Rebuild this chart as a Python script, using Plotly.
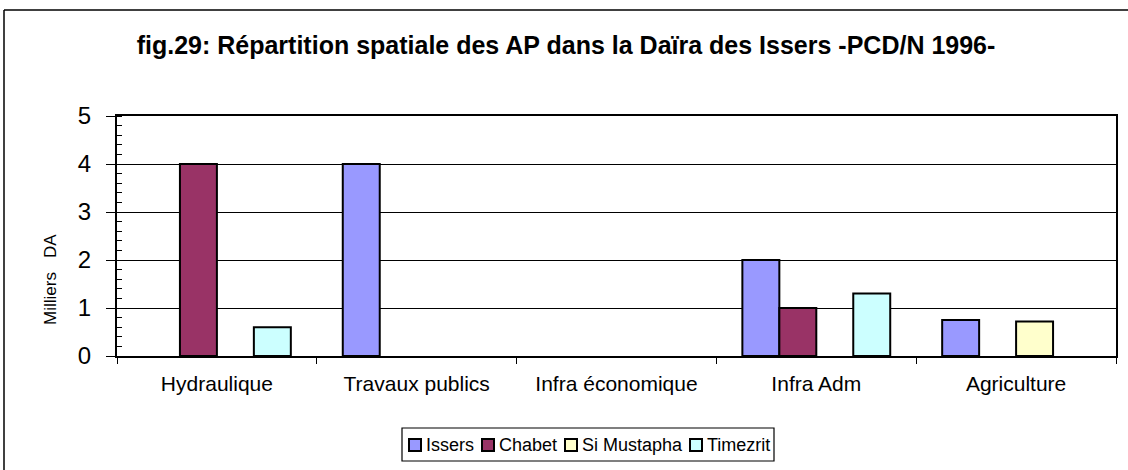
import plotly.graph_objects as go

categories = ["Hydraulique", "Travaux publics", "Infra économique", "Infra Adm", "Agriculture"]
series_names = ["Issers", "Chabet", "Si Mustapha", "Timezrit"]
issers = [None, 4, None, 2, 0.75]
chabet = [4, None, None, 1, None]
si_mustapha = [None, None, None, None, 0.72]
timezrit = [0.6, None, None, 1.3, None]
colors = ["#9999FF", "#993366", "#FFFFCC", "#CCFFFF"]

W, H = 1128, 470
L, R, T, B = 117, 12, 116, 114
pw, ph = W - L - R, H - T - B

def px_x(x):
    return (x - L) / pw

def px_y(y):
    return (H - B - y) / ph

fig = go.Figure()
for name, vals, col in zip(series_names, [issers, chabet, si_mustapha, timezrit], colors):
    fig.add_trace(go.Bar(
        x=categories, y=vals, name=name, showlegend=False,
        marker=dict(color=col, line=dict(color="black", width=2)),
    ))

font_family = "Liberation Sans, Arial, sans-serif"
fig.update_layout(
    width=W, height=H,
    margin=dict(l=L, r=R, t=T, b=B, autoexpand=False),
    paper_bgcolor="white", plot_bgcolor="white",
    barmode="group", bargap=0.26, bargroupgap=0,
    font=dict(family=font_family, color="black"),
    title=dict(
        text="<b>fig.29: Répartition spatiale des AP dans la Daïra des Issers -PCD/N 1996-</b>",
        x=566 / W, xanchor="center", y=1 - 45 / H, yanchor="middle",
        font=dict(size=25, family=font_family),
    ),
    xaxis=dict(
        showline=True, linecolor="black", linewidth=2, mirror=True,
        ticks="outside", ticklen=6, tickcolor="black", tickson="boundaries",
        tickfont=dict(size=21), showgrid=False, ticklabelstandoff=8,
    ),
    yaxis=dict(
        range=[0, 5], dtick=1, showline=True, linecolor="black", linewidth=2, mirror=True,
        ticks="outside", ticklen=9, tickcolor="black",
        tickfont=dict(size=24), showgrid=True, gridcolor="black", gridwidth=1,
        zeroline=False, ticklabelstandoff=10,
        minor=dict(dtick=0.2, ticks="inside", ticklen=5, tickcolor="black", showgrid=False),
    ),
)

# y-axis title (placed like the original, below the vertical centre)
fig.add_annotation(text="Milliers\u00a0\u00a0\u00a0DA", textangle=-90,
                   xref="paper", yref="paper", x=px_x(50), y=px_y(280),
                   xanchor="center", yanchor="middle", showarrow=False,
                   font=dict(size=17))

# outer frame of chart area: only left and top edges are inside the picture
fig.add_shape(type="line", xref="paper", yref="paper",
              x0=px_x(4), x1=px_x(4), y0=px_y(H), y1=px_y(10),
              line=dict(color="black", width=1.5), layer="below")
fig.add_shape(type="line", xref="paper", yref="paper",
              x0=px_x(4), x1=px_x(W), y0=px_y(10), y1=px_y(10),
              line=dict(color="black", width=1.5), layer="below")

# legend box with items
leg_font = 18
fig.add_shape(type="rect", xref="paper", yref="paper",
              x0=px_x(402), x1=px_x(774), y0=px_y(461), y1=px_y(428),
              line=dict(color="black", width=1.2), fillcolor="white")
sq_x = [409, 482, 565, 690]
for name, col, sx in zip(series_names, colors, sq_x):
    fig.add_shape(type="rect", xref="paper", yref="paper",
                  x0=px_x(sx), x1=px_x(sx + 12), y0=px_y(451), y1=px_y(439),
                  line=dict(color="black", width=2), fillcolor=col)
    fig.add_annotation(text=name, xref="paper", yref="paper",
                       x=px_x(sx + 15), y=px_y(445), xanchor="left", yanchor="middle",
                       showarrow=False, font=dict(size=leg_font))

fig.write_html("out.html", config={"displayModeBar": False},
               post_script="document.body.style.margin='0';document.body.style.overflow='hidden';")
